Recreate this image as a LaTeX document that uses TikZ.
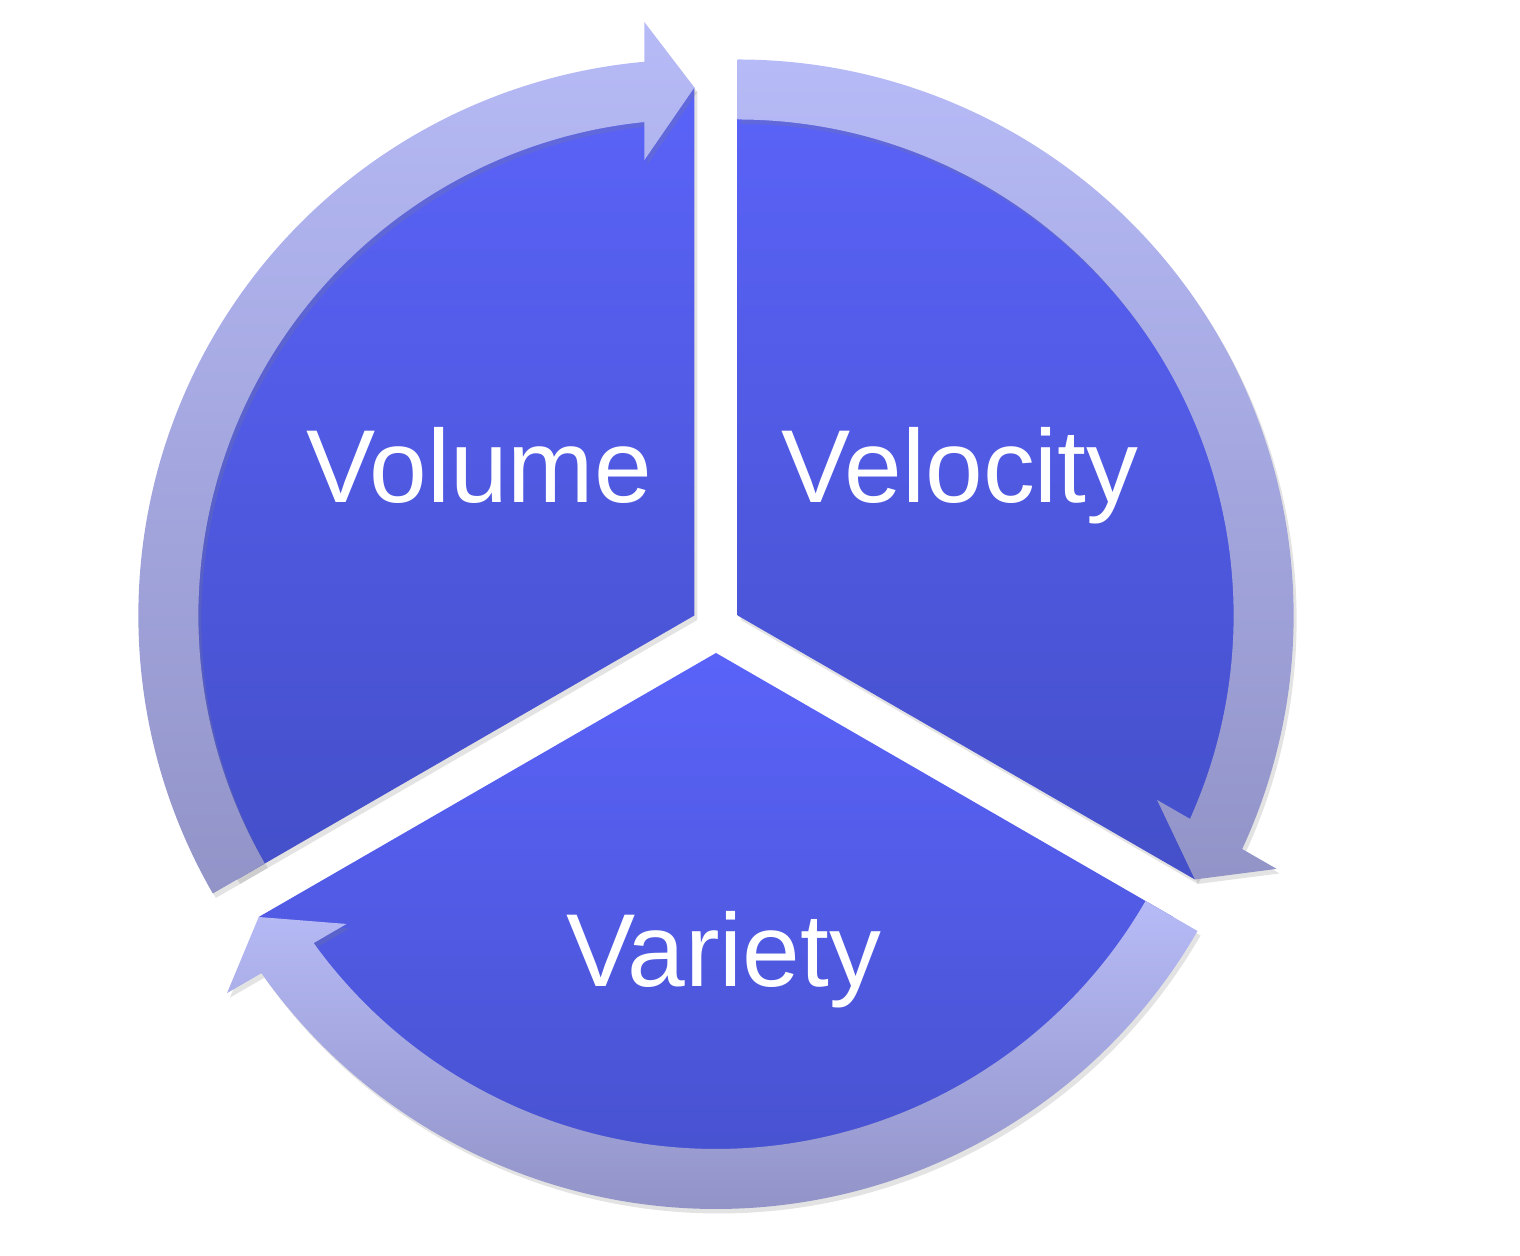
\documentclass[tikz,border=0pt]{standalone}
\usepackage{fontspec}
\setmainfont{Liberation Sans}
\usetikzlibrary{shadows}
\definecolor{secttop}{RGB}{90,99,248}
\definecolor{sectbot}{RGB}{68,79,201}
\definecolor{ringtop}{RGB}{182,186,246}
\definecolor{ringbot}{RGB}{146,148,200}
\begin{document}
\begin{tikzpicture}
\useasboundingbox (0,0) rectangle (15.2,12.56);
\tikzset{
  sector/.style={top color=secttop,bottom color=sectbot,
    drop shadow={opacity=0.22,shadow xshift=0.03cm,shadow yshift=-0.045cm}},
  ringarrow/.style={top color=ringtop,bottom color=ringbot,
    drop shadow={opacity=0.22,shadow xshift=0.03cm,shadow yshift=-0.045cm}},
  lbl/.style={text=white,font=\fontsize{29.5}{34}\selectfont,anchor=base,inner sep=0pt}
}
\coordinate (c1) at (6.9435,6.405);
\coordinate (c2) at (7.3765,6.405);
\coordinate (c3) at (7.16,6.03);
% sectors (their rim lies under the ring arrows)
\path[sector] (c1) -- ++(90:5.28) arc[start angle=90,end angle=210,radius=5.28] -- cycle;
\path[sector] (c2) -- ++(-30:5.28) arc[start angle=-30,end angle=90,radius=5.28] -- cycle;
\path[sector] (c3) -- ++(210:5.28) arc[start angle=210,end angle=330,radius=5.28] -- cycle;
% arrows
\begin{scope}[shift={(c1)}]
\path[ringarrow] (210:5.56) arc[start angle=210,end angle=95.16,radius=5.56]
  -- (94.82:5.956) -- (90:5.28) -- (96.26:4.582) -- (95.79:4.96)
  arc[start angle=95.79,end angle=210,radius=4.96] -- cycle;
\end{scope}
\begin{scope}[shift={(c2)}]
\path[ringarrow] (90:5.56) arc[start angle=90,end angle=-24.84,radius=5.56]
  -- (-25.18:5.956) -- (-30:5.28) -- (-23.74:4.582) -- (-24.21:4.96)
  arc[start angle=-24.21,end angle=90,radius=4.96] -- cycle;
\end{scope}
\begin{scope}[shift={(c3)}]
\path[ringarrow] (-30:5.56) arc[start angle=-30,end angle=-144.84,radius=5.56]
  -- (-145.18:5.956) -- (-150:5.28) -- (-143.74:4.582) -- (-144.21:4.96)
  arc[start angle=-144.21,end angle=-30,radius=4.96] -- cycle;
\end{scope}
% labels
\node[lbl] (volume) at (4.79,7.53) {Volume};
\node[lbl] (velocity) at (9.6,7.53) {Velocity};
\node[lbl] (variety) at (7.235,2.69) {Variety};
\end{tikzpicture}
\end{document}
